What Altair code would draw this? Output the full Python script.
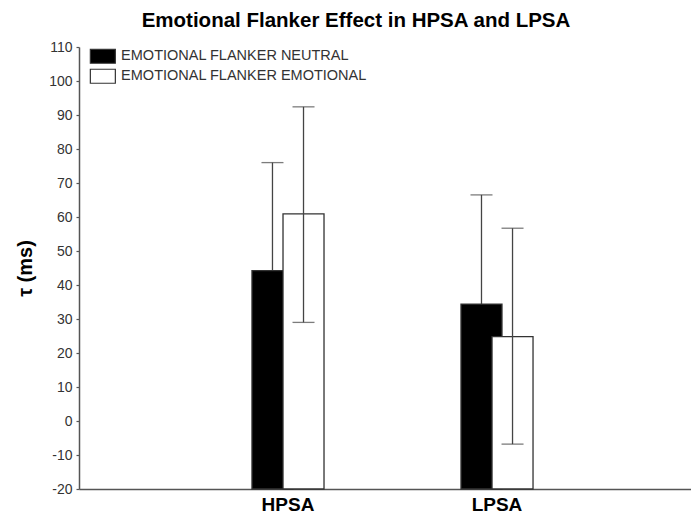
import altair as alt
import pandas as pd

groups = ["HPSA", "HPSA", "LPSA", "LPSA"]
conditions = ["EMOTIONAL FLANKER NEUTRAL", "EMOTIONAL FLANKER EMOTIONAL",
              "EMOTIONAL FLANKER NEUTRAL", "EMOTIONAL FLANKER EMOTIONAL"]
means = [44.2, 60.9, 34.4, 24.8]
lower = [12.4, 29.0, 2.3, -6.8]
upper = [76.0, 92.4, 66.5, 56.7]
cond_domain = ["EMOTIONAL FLANKER NEUTRAL", "EMOTIONAL FLANKER EMOTIONAL"]
y_ticks = list(range(-20, 111, 10))

df = pd.DataFrame(dict(group=groups, condition=conditions, mean=means, lo=lower, hi=upper))

FONT = "Liberation Sans"

x = alt.X("group:N",
          scale=alt.Scale(domain=["HPSA", "LPSA"], paddingInner=0.703,
                          paddingOuter=0.8155, align=0.522),
          axis=alt.Axis(title=None, labelAngle=0, labelFont=FONT, labelFontSize=19,
                        labelFontWeight="bold", labelColor="black", labelPadding=6,
                        ticks=False, domainColor="#555", domainWidth=1.5))
xo = alt.XOffset("condition:N", scale=alt.Scale(domain=cond_domain, paddingInner=0, paddingOuter=0))
yscale = alt.Scale(domain=[-20, 110], nice=False, zero=False)
yaxis = alt.Axis(values=y_ticks, title="τ (ms)", grid=False, labelOverlap=False,
                 labelExpr="toString(datum.value)",
                 labelFont=FONT, labelFontSize=14, labelColor="#333",
                 labelPadding=4, tickSize=3, tickColor="#555", tickWidth=1.2,
                 domainColor="#555", domainWidth=1.5,
                 titleFont=FONT, titleFontSize=20, titleFontWeight="bold",
                 titleColor="black", titleX=-54, titleY=221,
                 titleAlign="center", titleBaseline="middle")

base = alt.Chart(df)

bars = base.mark_bar(width=41, stroke="#333", strokeWidth=1.3, opacity=1).encode(
    x=x, xOffset=xo, y=alt.Y("mean:Q", scale=yscale, axis=yaxis), y2=alt.datum(-20),
    color=alt.Color("condition:N",
                    scale=alt.Scale(domain=cond_domain, range=["black", "white"]),
                    legend=alt.Legend(title=None, orient="none", legendX=16.6, legendY=2,
                                      symbolType="M-2.5,-1.4H2.5V1.4H-2.5Z", symbolSize=100,
                                      symbolStrokeColor="#333", symbolStrokeWidth=1.2,
                                      symbolOpacity=1,
                                      labelFont=FONT, labelFontSize=14.5, labelColor="#333",
                                      labelOffset=11, rowPadding=0, labelLimit=400)),
)

def errs(cond):
    b = base.transform_filter(alt.datum.condition == cond)
    rule = b.mark_rule(color="#444", strokeWidth=1.3).encode(
        x=x, xOffset=xo, y=alt.Y("lo:Q", scale=yscale, axis=yaxis), y2="hi:Q")
    cap_hi = b.mark_tick(color="#444", thickness=1.3, size=22).encode(
        x=x, xOffset=xo, y=alt.Y("hi:Q", scale=yscale, axis=yaxis))
    cap_lo = b.mark_tick(color="#444", thickness=1.3, size=22).encode(
        x=x, xOffset=xo, y=alt.Y("lo:Q", scale=yscale, axis=yaxis))
    return rule + cap_hi + cap_lo

chart = alt.layer(errs(cond_domain[0]), bars, errs(cond_domain[1])).properties(
    width=612, height=442,
    autosize=alt.AutoSizeParams(type="none"),
    padding={"left": 71, "top": 39, "right": 0, "bottom": 24},
    title=alt.Title("Emotional Flanker Effect in HPSA and LPSA", font=FONT, fontSize=20.5,
                    fontWeight="bold", color="black", anchor="middle", frame="group",
                    dx=-29, offset=9),
).configure_view(strokeWidth=0, stroke="transparent")

chart.save("out.html", embed_options={"renderer": "svg", "actions": False})
